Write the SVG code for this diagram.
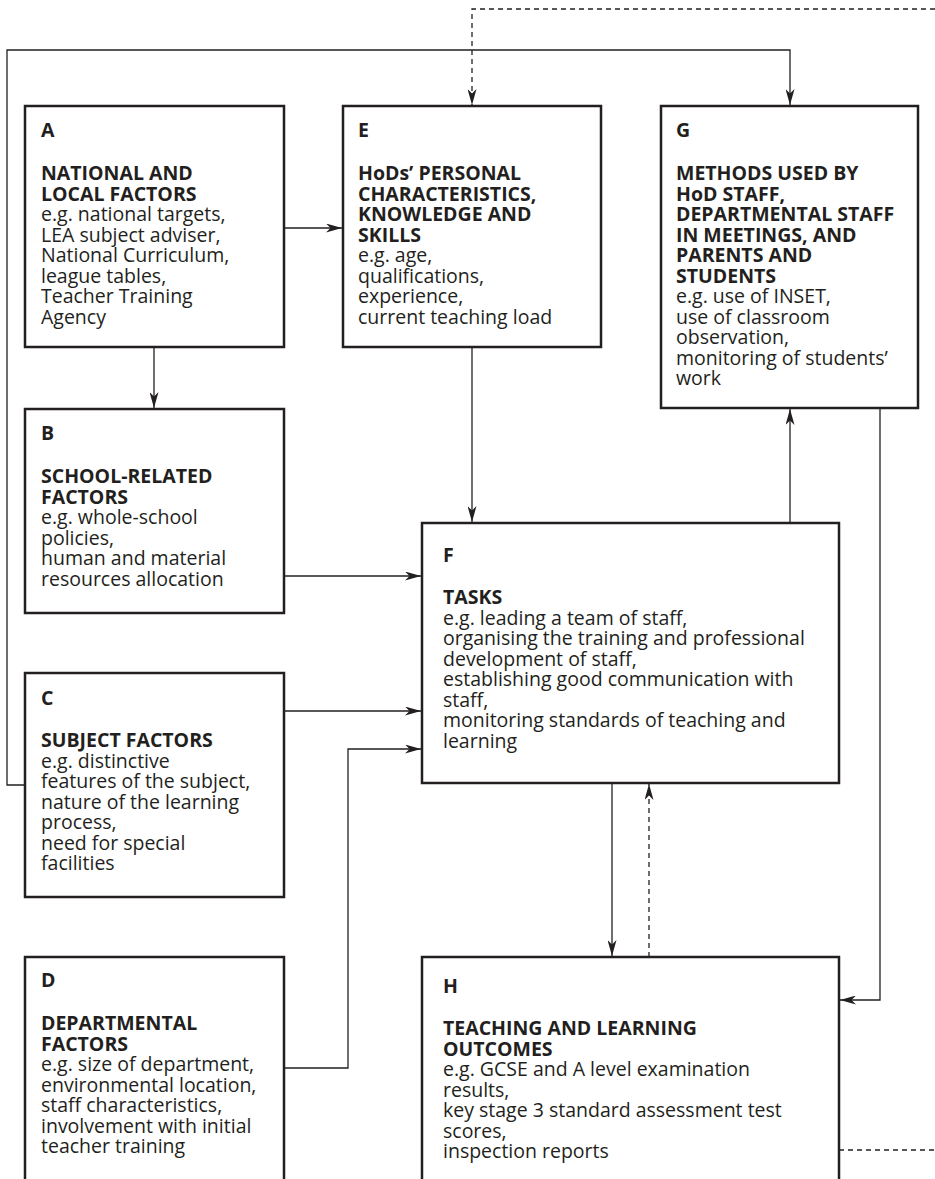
<svg xmlns="http://www.w3.org/2000/svg" width="935" height="1179" viewBox="0 0 935 1179">
<style>
.box{fill:#fff;stroke:#231f20;stroke-width:2.5}
.ln{fill:none;stroke:#231f20;stroke-width:1.3}
.dash{stroke-dasharray:5 4}
.t{font-family:"Open Sans","Noto Sans",sans-serif;font-size:19.5px;fill:#231f20}
.b{font-weight:bold}
</style>
<defs>
<marker id="ah" markerUnits="userSpaceOnUse" viewBox="0 0 16 9" refX="16" refY="4.5" markerWidth="16" markerHeight="9" orient="auto">
<path d="M0,0 L16,4.5 L0,9 L4.5,4.5 z" fill="#231f20"/>
</marker>
</defs>
<rect width="935" height="1179" fill="#fff"/>
<g id="connectors">
<path class="ln" d="M284,228 H342" marker-end="url(#ah)"/>
<path class="ln" d="M154,348 V408" marker-end="url(#ah)"/>
<path class="ln" d="M472,347 V522" marker-end="url(#ah)"/>
<path class="ln" d="M284,576 H421" marker-end="url(#ah)"/>
<path class="ln" d="M284,711 H421" marker-end="url(#ah)"/>
<path class="ln" d="M284,1068 H348 V749 H421" marker-end="url(#ah)"/>
<path class="ln" d="M790,523 V409" marker-end="url(#ah)"/>
<path class="ln" d="M880,408 V1000 H840" marker-end="url(#ah)"/>
<path class="ln" d="M612,783 V956" marker-end="url(#ah)"/>
<path class="ln dash" d="M649,957 V784" marker-end="url(#ah)"/>
<path class="ln" d="M25,785 H7 V50 H790 V105" marker-end="url(#ah)"/>
<path class="ln dash" d="M935,9 H472 V105" marker-end="url(#ah)"/>
<path class="ln dash" d="M839,1150 H935"/>
</g>
<g id="nodeA">
<rect class="box" x="25" y="106" width="259" height="241"/>
<text class="t"><tspan class="b" x="41" y="137">A</tspan><tspan class="b" x="41" y="180">NATIONAL AND</tspan><tspan class="b" x="41" y="200.5">LOCAL FACTORS</tspan><tspan x="41" y="221">e.g. national targets,</tspan><tspan x="41" y="241.5">LEA subject adviser,</tspan><tspan x="41" y="262">National Curriculum,</tspan><tspan x="41" y="282.5">league tables,</tspan><tspan x="41" y="303">Teacher Training</tspan><tspan x="41" y="323.5">Agency</tspan></text>
</g>
<g id="nodeE">
<rect class="box" x="343" y="106" width="258" height="241"/>
<text class="t"><tspan class="b" x="358" y="137">E</tspan><tspan class="b" x="358" y="180">HoDs’ PERSONAL</tspan><tspan class="b" x="358" y="200.5">CHARACTERISTICS,</tspan><tspan class="b" x="358" y="221">KNOWLEDGE AND</tspan><tspan class="b" x="358" y="241.5">SKILLS</tspan><tspan x="358" y="262">e.g. age,</tspan><tspan x="358" y="282.5">qualifications,</tspan><tspan x="358" y="303">experience,</tspan><tspan x="358" y="323.5">current teaching load</tspan></text>
</g>
<g id="nodeG">
<rect class="box" x="661" y="106" width="257" height="302"/>
<text class="t"><tspan class="b" x="676" y="137">G</tspan><tspan class="b" x="676" y="180">METHODS USED BY</tspan><tspan class="b" x="676" y="200.5">HoD STAFF,</tspan><tspan class="b" x="676" y="221">DEPARTMENTAL STAFF</tspan><tspan class="b" x="676" y="241.5">IN MEETINGS, AND</tspan><tspan class="b" x="676" y="262">PARENTS AND</tspan><tspan class="b" x="676" y="282.5">STUDENTS</tspan><tspan x="676" y="303">e.g. use of INSET,</tspan><tspan x="676" y="323.5">use of classroom</tspan><tspan x="676" y="344">observation,</tspan><tspan x="676" y="364.5">monitoring of students’</tspan><tspan x="676" y="385">work</tspan></text>
</g>
<g id="nodeB">
<rect class="box" x="25" y="409" width="259" height="204"/>
<text class="t"><tspan class="b" x="41" y="440">B</tspan><tspan class="b" x="41" y="483">SCHOOL-RELATED</tspan><tspan class="b" x="41" y="503.5">FACTORS</tspan><tspan x="41" y="524">e.g. whole-school</tspan><tspan x="41" y="544.5">policies,</tspan><tspan x="41" y="565">human and material</tspan><tspan x="41" y="585.5">resources allocation</tspan></text>
</g>
<g id="nodeF">
<rect class="box" x="422" y="523" width="417" height="260"/>
<text class="t"><tspan class="b" x="443" y="562">F</tspan><tspan class="b" x="443" y="604">TASKS</tspan><tspan x="443" y="624.5">e.g. leading a team of staff,</tspan><tspan x="443" y="645">organising the training and professional</tspan><tspan x="443" y="665.5">development of staff,</tspan><tspan x="443" y="686">establishing good communication with</tspan><tspan x="443" y="706.5">staff,</tspan><tspan x="443" y="727">monitoring standards of teaching and</tspan><tspan x="443" y="747.5">learning</tspan></text>
</g>
<g id="nodeC">
<rect class="box" x="25" y="673" width="259" height="224"/>
<text class="t"><tspan class="b" x="41" y="705">C</tspan><tspan class="b" x="41" y="747">SUBJECT FACTORS</tspan><tspan x="41" y="767.5">e.g. distinctive</tspan><tspan x="41" y="788">features of the subject,</tspan><tspan x="41" y="808.5">nature of the learning</tspan><tspan x="41" y="829">process,</tspan><tspan x="41" y="849.5">need for special</tspan><tspan x="41" y="870">facilities</tspan></text>
</g>
<g id="nodeD">
<rect class="box" x="25" y="957" width="259" height="240"/>
<text class="t"><tspan class="b" x="41" y="987">D</tspan><tspan class="b" x="41" y="1030">DEPARTMENTAL</tspan><tspan class="b" x="41" y="1050.5">FACTORS</tspan><tspan x="41" y="1071">e.g. size of department,</tspan><tspan x="41" y="1091.5">environmental location,</tspan><tspan x="41" y="1112">staff characteristics,</tspan><tspan x="41" y="1132.5">involvement with initial</tspan><tspan x="41" y="1153">teacher training</tspan></text>
</g>
<g id="nodeH">
<rect class="box" x="422" y="957" width="417" height="240"/>
<text class="t"><tspan class="b" x="443" y="993">H</tspan><tspan class="b" x="443" y="1035">TEACHING AND LEARNING</tspan><tspan class="b" x="443" y="1055.5">OUTCOMES</tspan><tspan x="443" y="1076">e.g. GCSE and A level examination</tspan><tspan x="443" y="1096.5">results,</tspan><tspan x="443" y="1117">key stage 3 standard assessment test</tspan><tspan x="443" y="1137.5">scores,</tspan><tspan x="443" y="1158">inspection reports</tspan></text>
</g>
</svg>
